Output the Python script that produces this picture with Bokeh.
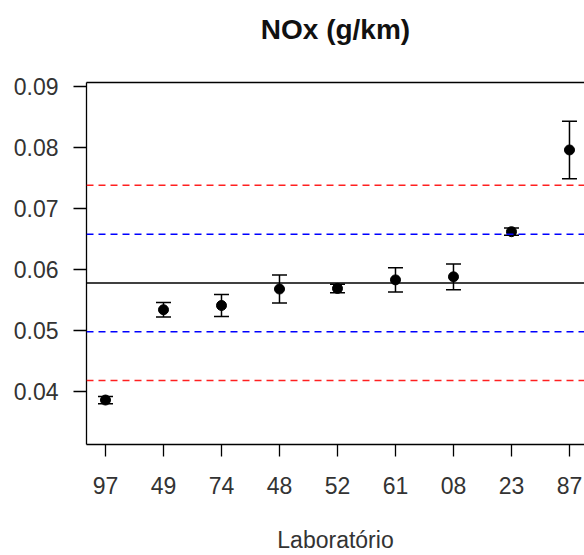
from bokeh.plotting import figure
from bokeh.models import (ColumnDataSource, FixedTicker, Range1d, LinearAxis, Span,
                          Whisker, TeeHead)
from bokeh.embed import file_html
from bokeh.resources import INLINE

# data
labs = ["97", "49", "74", "48", "52", "61", "08", "23", "87"]
means = [0.0386, 0.0534, 0.0541, 0.0568, 0.0569, 0.0583, 0.0588, 0.0662, 0.0796]
errs = [0.0006, 0.0012, 0.0018, 0.0023, 0.0007, 0.0020, 0.0021, 0.0006, 0.0047]
center = 0.0578
inner = [0.0498, 0.0658]
outer = [0.0418, 0.0738]
yticks = [0.04, 0.05, 0.06, 0.07, 0.08, 0.09]

xs = list(range(1, len(labs) + 1))
src = ColumnDataSource(dict(
    x=xs, y=means,
    lower=[m - e for m, e in zip(means, errs)],
    upper=[m + e for m, e in zip(means, errs)],
))

FONT = "Liberation Sans"
TXT = "#333333"

p = figure(width=584, height=555, output_backend="svg", toolbar_location=None,
           x_range=Range1d(0.6724, 9.259), y_range=Range1d(0.03131, 0.09066),
           min_border_left=86, min_border_right=0, min_border_top=82,
           min_border_bottom=111)
p.outline_line_color = None
p.grid.visible = False
p.background_fill_color = "white"
p.border_fill_color = "white"
p.title.visible = False

# reference lines
p.add_layout(Span(location=center, dimension="width", line_color="black", line_width=1.5))
for v in inner:
    p.add_layout(Span(location=v, dimension="width", line_color="#0000ff",
                      line_width=1.5, line_dash="7 5"))
for v in outer:
    p.add_layout(Span(location=v, dimension="width", line_color="#ff2020",
                      line_width=1.5, line_dash="7 5"))

# error bars and points
p.add_layout(Whisker(source=src, base="x", upper="upper", lower="lower",
                     line_color="black", line_width=1.5,
                     upper_head=TeeHead(size=15, line_color="black", line_width=1.5),
                     lower_head=TeeHead(size=15, line_color="black", line_width=1.5)))
p.scatter("x", "y", source=src, size=10, color="black")

# axes
for ax in (p.xaxis[0], p.yaxis[0]):
    ax.axis_line_color = "black"
    ax.axis_line_width = 1.3
    ax.major_tick_line_color = "black"
    ax.major_tick_line_width = 1.3
    ax.major_tick_in = 0
    ax.minor_tick_line_color = None
    ax.major_label_text_font = FONT
    ax.major_label_text_font_size = "23px"
    ax.major_label_text_color = TXT

p.yaxis.ticker = FixedTicker(ticks=yticks)
p.yaxis.major_label_overrides = {t: f"{t:.2f}" for t in yticks}
p.yaxis.major_tick_out = 13
p.yaxis.major_label_standoff = 15

p.xaxis.ticker = FixedTicker(ticks=xs)
p.xaxis.major_label_overrides = {x: l for x, l in zip(xs, labs)}
p.xaxis.major_tick_out = 12
p.xaxis.major_label_standoff = 20
p.xaxis.axis_label = "Laboratório"
p.xaxis.axis_label_text_font = FONT
p.xaxis.axis_label_text_font_size = "23px"
p.xaxis.axis_label_text_font_style = "normal"
p.xaxis.axis_label_text_color = TXT
p.xaxis.axis_label_standoff = 30

# top border of the box, carrying the chart title as its label
top = LinearAxis(ticker=FixedTicker(ticks=[]), axis_line_color="black",
                 axis_line_width=1.3, major_tick_line_color=None, major_tick_out=0,
                 minor_tick_line_color=None, major_label_text_font_size="0px",
                 axis_label="NOx (g/km)", axis_label_text_font=FONT,
                 axis_label_text_font_size="28px", axis_label_text_font_style="bold",
                 axis_label_text_color="#111111", axis_label_standoff=38)
p.add_layout(top, "above")

open("out.html", "w").write(file_html(p, INLINE))
